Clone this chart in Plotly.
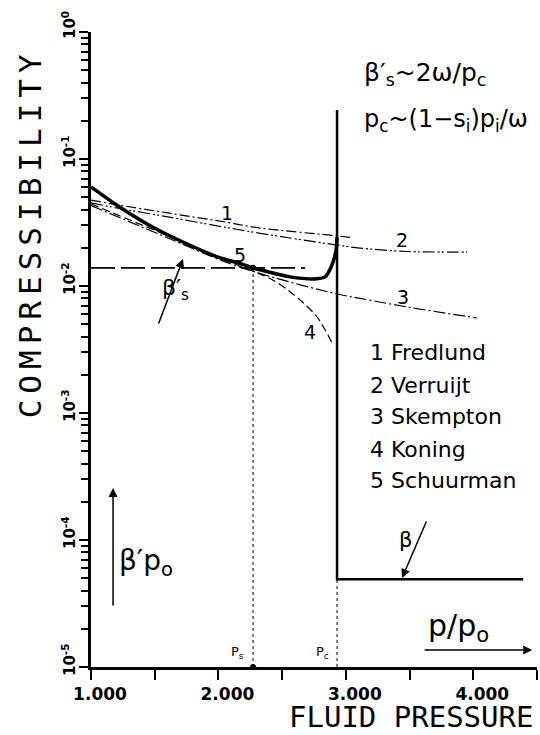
import numpy as np
import plotly.graph_objects as go

# Compressibility curves beta'*p0 versus normalised fluid pressure p/p0
p_fredlund = [1.000, 1.212, 1.604, 2.052, 2.327, 2.931, 3.049]
b_fredlund = [0.0475, 0.0435, 0.0376, 0.0319, 0.0286, 0.0248, 0.0240]

p_verruijt = [1.000, 1.212, 1.604, 2.052, 2.327, 2.931, 3.111, 3.480, 3.951]
b_verruijt = [0.0451, 0.0410, 0.0350, 0.0290, 0.0260, 0.0210, 0.0199, 0.0187, 0.0185]

p_skempton = [1.000, 1.604, 2.052, 2.429, 2.931, 3.111, 3.480, 4.030]
b_skempton = [0.0430, 0.0239, 0.0155, 0.0117, 0.00865, 0.0080, 0.00684, 0.00560]

p_koning = [1.000, 1.604, 2.052, 2.429, 2.641, 2.774, 2.892]
b_koning = [0.0443, 0.0248, 0.0160, 0.0111, 0.00776, 0.00570, 0.00356]

p_schuurman = [1.000, 1.212, 1.479, 1.738, 1.997, 2.154, 2.272, 2.327, 2.562,
               2.774, 2.837, 2.860, 2.900, 2.923, 2.931]
b_schuurman = [0.0603, 0.0427, 0.0293, 0.0218, 0.0169, 0.0152, 0.0139, 0.0134, 0.0118,
               0.0114, 0.0118, 0.0126, 0.0155, 0.0192, 0.0243]

p_s = 2.272          # pressure where beta'_s is reached
p_c = 2.931          # critical pressure
beta_s = 0.0139      # beta'_s level
beta_top = 0.243     # top of the jump at p_c
beta_liquid = 4.9e-5 # beta beyond p_c
p_beta_end = 4.391
p_betas_end = 2.68
beta_floor = 1e-5

x_ticks = [1.0, 1.5, 2.0, 2.5, 3.0, 3.5, 4.0, 4.5]
x_ticktext = ["1.000", "", "2.000", "", "3.000", "", "4.000", ""]
y_exponents = [-5, -4, -3, -2, -1, 0]
y_ticktext = ["10<sup>-5</sup>", "10<sup>-4</sup>", "10<sup>-3</sup>",
              "10<sup>-2</sup>", "10<sup>-1</sup>", "10<sup>0</sup>"]

legend_lines = ["1 Fredlund", "2 Verruijt", "3 Skempton", "4 Koning", "5 Schuurman"]

LETTER = "DejaVu Sans"
BLACK = "black"

fig = go.Figure()


def curve(x, y, width, dash, shape="spline", smoothing=0.9):
    fig.add_trace(go.Scatter(
        x=x, y=y, mode="lines",
        line=dict(color=BLACK, width=width, dash=dash, shape=shape,
                  smoothing=smoothing if shape == "spline" else None),
        showlegend=False, hoverinfo="skip", cliponaxis=False))


curve(p_fredlund, b_fredlund, 1.2, "10px,3px,2px,3px")
curve(p_verruijt, b_verruijt, 1.2, "12px,3px,2px,2px,2px,3px")
curve(p_skempton, b_skempton, 1.2, "12px,3px,2px,3px")
curve(p_koning, b_koning, 1.2, "8px,4px")
curve(p_schuurman, b_schuurman, 3.5, "solid", smoothing=0.8)

# beta'_s level
curve([1.0, p_betas_end], [beta_s, beta_s], 1.6, "24px,6px", shape="linear")
# jump at p_c and constant beta beyond
curve([p_c, p_c, p_beta_end], [beta_top, beta_liquid, beta_liquid], 2.5, "solid", shape="linear")
# dotted guides to the pressure axis
curve([p_s, p_s], [beta_floor, beta_s], 1.0, "dot", shape="linear")
curve([p_c, p_c], [beta_floor, beta_liquid], 1.0, "dot", shape="linear")

fig.add_trace(go.Scatter(x=[p_s, p_s], y=[beta_floor, beta_s], mode="markers",
                         marker=dict(color=BLACK, size=6), showlegend=False,
                         hoverinfo="skip", cliponaxis=False))

ann = []


def text(x, ylog, s, size, xanchor="center", family=LETTER):
    ann.append(dict(x=x, y=ylog, xref="x", yref="y", text=s, showarrow=False,
                    xanchor=xanchor, yanchor="middle",
                    font=dict(family=family, size=size, color=BLACK)))


def arrow(x0, y0, x1, y1, width=1.5):
    ann.append(dict(x=x1, y=y1, ax=x0, ay=y0, xref="x", yref="y", axref="x", ayref="y",
                    text="", showarrow=True, arrowhead=2, arrowsize=1.2,
                    arrowwidth=width, arrowcolor=BLACK))


# curve numbers
text(2.067, -1.425, "1", 19)
text(3.441, -1.638, "2", 19)
text(3.449, -2.087, "3", 19)
text(2.719, -2.362, "4", 19)
text(2.170, -1.756, "5", 19)

# key to the curve numbers
for line, ylog in zip(legend_lines, [-2.520, -2.780, -3.024, -3.291, -3.535]):
    text(3.175, ylog, line, 22, xanchor="left")

# relations
text(3.127, -0.328, "β′<sub>s</sub>~2ω/p<sub>c</sub>", 25, xanchor="left")
text(3.127, -0.700, "p<sub>c</sub>~(1−s<sub>i</sub>)p<sub>i</sub>/ω", 24, xanchor="left")

# labelled arrows
text(1.667, -2.031, "β′<sub>s</sub>", 22)
arrow(1.526, -2.307, 1.722, -1.787)
text(3.465, -4.0, "β", 21)
arrow(3.637, -3.843, 3.441, -4.299)
text(1.432, -4.181, "β′p<sub>o</sub>", 28)
arrow(1.173, -4.528, 1.173, -3.591)
text(3.881, -4.685, "p/p<sub>o</sub>", 30)
arrow(3.606, -4.866, 4.462, -4.866)

text(2.146, -4.882, "P<sub>s</sub>", 13)
text(2.813, -4.882, "P<sub>c</sub>", 13)

# decade labels along the compressibility axis, written upwards
for e, lab in zip(y_exponents, y_ticktext):
    ann.append(dict(x=0, y=e, xref="paper", yref="y", text=lab, showarrow=False,
                    textangle=-90, xanchor="center", yanchor="middle",
                    xshift=-22, yshift=7,
                    font=dict(family="DejaVu Sans", size=15, color=BLACK, weight="bold")))

# axis titles
ann.append(dict(x=1.0, y=-0.078, xref="paper", yref="paper", xanchor="right", yanchor="middle",
                xshift=-2, text="FLUID PRESSURE", showarrow=False,
                font=dict(family="DejaVu Sans Mono", size=29, color=BLACK)))
ann.append(dict(x=0, y=0.683, xref="paper", yref="paper", xanchor="center", yanchor="middle",
                xshift=-61, textangle=-90, showarrow=False,
                text='<span style="letter-spacing:6px">COMPRESSIBILITY</span>',
                font=dict(family="DejaVu Sans Mono", size=31, color=BLACK)))

minor_y = [k * 10.0 ** e for e in range(-5, 0) for k in range(2, 10)]

fig.update_layout(
    width=540, height=735,
    margin=dict(l=91, r=3, t=32, b=68),
    paper_bgcolor="white", plot_bgcolor="white",
    annotations=ann,
    xaxis=dict(range=[1.0, 4.5], showgrid=False, zeroline=False,
               showline=True, linewidth=2.5, linecolor=BLACK,
               tickvals=x_ticks, ticktext=x_ticktext, ticks="outside",
               ticklen=10, tickwidth=2, tickcolor=BLACK, ticklabelshift=9,
               tickfont=dict(family="DejaVu Sans", size=17, color=BLACK, weight="bold")),
    yaxis=dict(type="log", range=[-5, 0], showgrid=False, zeroline=False,
               showline=True, linewidth=2.5, linecolor=BLACK,
               tickvals=[10.0 ** e for e in y_exponents], ticks="outside",
               ticklen=9, tickwidth=2, tickcolor=BLACK, showticklabels=False,
               minor=dict(tickmode="array", tickvals=minor_y, ticks="outside", ticklen=7,
                          tickwidth=1.5, tickcolor=BLACK)),
)

fig.write_html("out.html")
